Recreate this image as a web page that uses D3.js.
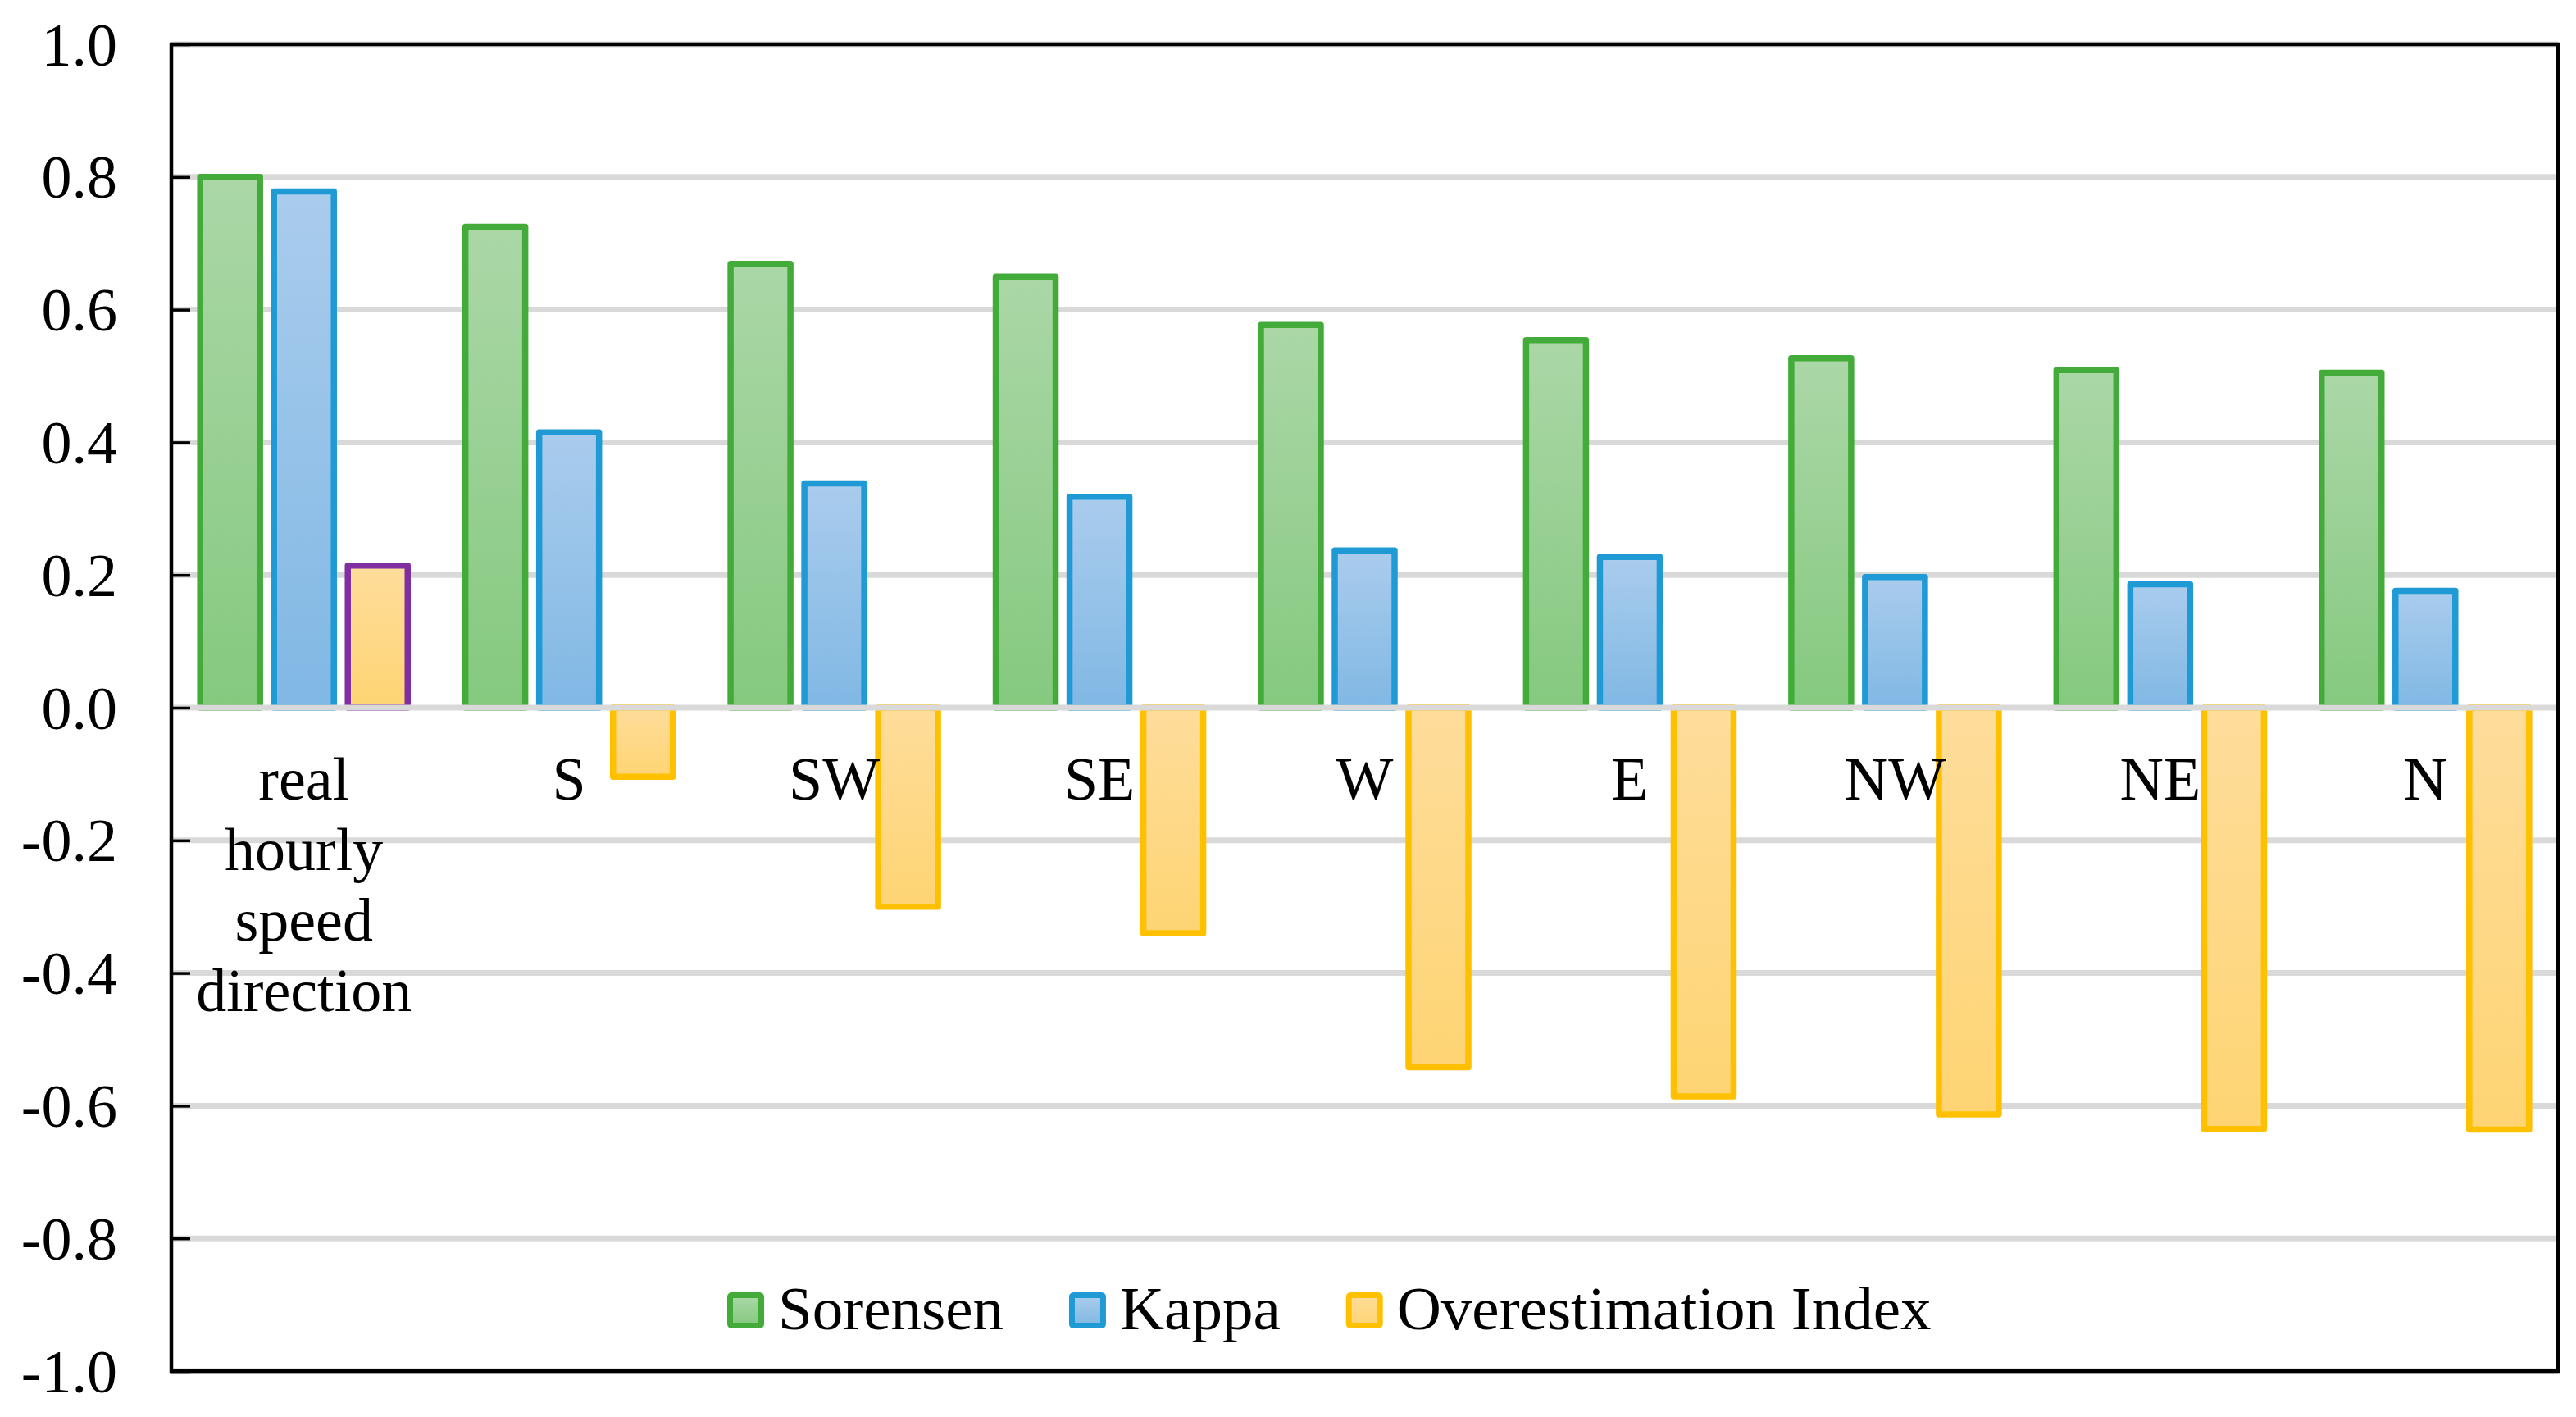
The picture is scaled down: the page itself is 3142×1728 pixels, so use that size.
<!DOCTYPE html>
<html>
<head>
<meta charset="utf-8">
<script src="https://cdn.jsdelivr.net/npm/d3@7"></script>
<style>
  body { margin: 0; background: #fff; }
  text { font-family: "Liberation Serif", "Times New Roman", serif; fill: #000; }
</style>
</head>
<body>
<div id="plot_area"></div>
<script>
// chart data
const categories = ['real hourly speed direction', 'S', 'SW', 'SE', 'W', 'E', 'NW', 'NE', 'N']
const seriesNames = ['Sorensen', 'Kappa', 'Overestimation Index']
const sorensen = [0.80, 0.725, 0.669, 0.650, 0.577, 0.554, 0.527, 0.509, 0.505]
const kappa = [0.778, 0.415, 0.338, 0.318, 0.237, 0.227, 0.197, 0.186, 0.176]
const overestimation = [0.214, -0.104, -0.30, -0.34, -0.542, -0.586, -0.613, -0.635, -0.636]
const yTicks = [-1.0, -0.8, -0.6, -0.4, -0.2, 0.0, 0.2, 0.4, 0.6, 0.8, 1.0]

const svgWidth = 3142,
    svgHeight = 1728,
    plot = { left: 209, right: 3120, top: 54, bottom: 1672 }

// look of each series
const styles = [
    { stroke: '#43ab3a', top: '#abd7a7', bottom: '#85c97f' },
    { stroke: '#1f9ad5', top: '#aacced', bottom: '#80b8e4' },
    { stroke: '#ffc000', top: '#fedd9b', bottom: '#fed473' }
]
const firstPointStroke = '#7f2fa2'   // first overestimation bar has its own border

const values = [sorensen, kappa, overestimation]

const svg = d3.select('#plot_area').append('svg')
    .attr('width', svgWidth)
    .attr('height', svgHeight)

svg.append('rect')
    .attr('width', svgWidth)
    .attr('height', svgHeight)
    .attr('fill', '#fff')

const defs = svg.append('defs')
styles.forEach((s, i) => {
    let g = defs.append('linearGradient')
        .attr('id', 'grad' + i)
        .attr('x1', 0).attr('y1', 0).attr('x2', 0).attr('y2', 1)
    g.append('stop').attr('offset', '0%').attr('stop-color', s.top)
    g.append('stop').attr('offset', '100%').attr('stop-color', s.bottom)
})

const x = d3.scaleBand()
    .domain(categories)
    .range([plot.left, plot.right])

const xSub = d3.scaleBand()
    .domain(seriesNames)
    .range([0, x.bandwidth()])
    .paddingInner(0.189)
    .paddingOuter(0.391)

const y = d3.scaleLinear()
    .domain([-1, 1])
    .range([plot.bottom, plot.top])

// gridlines (zero line goes on top of the bars later)
svg.append('g')
    .selectAll('line')
    .data(yTicks.filter(d => d !== 0))
    .enter()
    .append('line')
    .attr('x1', plot.left)
    .attr('x2', plot.right)
    .attr('y1', d => y(d))
    .attr('y2', d => y(d))
    .attr('stroke', '#d9d9d9')
    .attr('stroke-width', 7)

// bars
let barData = []
categories.forEach((c, ci) => {
    seriesNames.forEach((s, si) => {
        barData.push({ cat: c, series: s, si: si, ci: ci, value: values[si][ci] })
    })
})

svg.append('g')
    .selectAll('rect')
    .data(barData)
    .enter()
    .append('rect')
    .attr('x', d => x(d.cat) + xSub(d.series))
    .attr('width', xSub.bandwidth())
    .attr('y', d => Math.min(y(d.value), y(0)))
    .attr('height', d => Math.abs(y(d.value) - y(0)))
    .attr('fill', d => `url(#grad${d.si})`)
    .attr('stroke', d => (d.si === 2 && d.ci === 0) ? firstPointStroke : styles[d.si].stroke)
    .attr('stroke-width', 7.5)
    .attr('stroke-linejoin', 'round')

// horizontal axis line at zero
svg.append('line')
    .attr('x1', plot.left)
    .attr('x2', plot.right)
    .attr('y1', y(0))
    .attr('y2', y(0))
    .attr('stroke', '#d9d9d9')
    .attr('stroke-width', 7)

// plot border
svg.append('rect')
    .attr('x', plot.left)
    .attr('y', plot.top)
    .attr('width', plot.right - plot.left)
    .attr('height', plot.bottom - plot.top)
    .attr('fill', 'none')
    .attr('stroke', '#000')
    .attr('stroke-width', 4.5)

// y axis with inner ticks
let leftAxis = d3.axisLeft(y)
    .tickValues(yTicks)
    .tickFormat(d => d.toFixed(1))
    .tickSize(-23)
    .tickPadding(66)

let yAxis = svg.append('g')
    .attr('transform', `translate(${plot.left}, 0)`)
    .call(leftAxis)

yAxis.select('.domain').remove()
yAxis.selectAll('.tick line')
    .attr('stroke', '#000')
    .attr('stroke-width', 3.5)
yAxis.selectAll('.tick text')
    .attr('font-size', 74)
    .attr('font-family', 'Liberation Serif')
    .attr('fill', '#000')
    .attr('dy', '0.34em')

// category labels, wrapped on spaces
let catLabels = svg.append('g')
    .selectAll('text')
    .data(categories)
    .enter()
    .append('text')
    .attr('font-size', 74)
    .attr('text-anchor', 'middle')
    .attr('x', d => x(d) + x.bandwidth() / 2)
    .attr('y', 975)

catLabels.each(function(d) {
    let t = d3.select(this)
    let cx = x(d) + x.bandwidth() / 2
    d.split(' ').forEach((w, i) => {
        t.append('tspan')
            .attr('x', cx)
            .attr('dy', i === 0 ? 0 : 86)
            .text(w)
    })
})

// legend
let legend = svg.append('g')
let lx = 887
seriesNames.forEach((s, i) => {
    legend.append('rect')
        .attr('x', lx + 3.5)
        .attr('y', 1576 + 3.5)
        .attr('width', 38)
        .attr('height', 37)
        .attr('rx', 2)
        .attr('fill', `url(#grad${i})`)
        .attr('stroke', styles[i].stroke)
        .attr('stroke-width', 7)
    let txt = legend.append('text')
        .attr('x', lx + 62)
        .attr('y', 1621)
        .attr('font-size', 75)
        .text(s)
    lx = lx + 62 + txt.node().getComputedTextLength() + 80
})
</script>
</body>
</html>
